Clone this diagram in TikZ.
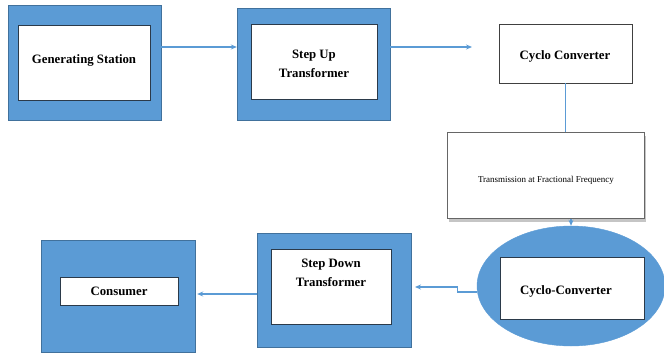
\documentclass[tikz,border=0pt]{standalone}
\usepackage{fontspec}
\setmainfont{Liberation Serif}
\usetikzlibrary{arrows.meta,shapes,shapes.geometric,shadows}
\definecolor{boxblue}{HTML}{5B9BD5}
\definecolor{rimblue}{HTML}{41719C}
\definecolor{inkline}{HTML}{2B3A4A}

\begin{document}
\begin{tikzpicture}[x=1pt,y=-1pt]
\useasboundingbox (0,0) rectangle (664,354);
\begin{scope}[every node/.style={rectangle,draw=rimblue,fill=boxblue,inner sep=0pt}]
    \node[minimum width=153,minimum height=115] (G) at (84.5,62.5) {};
    \node[minimum width=153,minimum height=112] (S) at (313.5,64) {};
    \node[minimum width=154,minimum height=114] (SD) at (334,290) {};
    \node[minimum width=154,minimum height=112] (Co) at (118,296) {};
\end{scope}
\node[ellipse,draw=boxblue,fill=boxblue,minimum width=188,minimum height=120,inner sep=0pt] (E) at (571,286) {};
\begin{scope}[every node/.style={rectangle,draw=inkline,fill=white,thick,inner sep=0pt}]
    \node[minimum width=132,minimum height=75] (Gi) at (84,62.5) {};
    \node[minimum width=126,minimum height=75] (Si) at (314,61.5) {};
    \node[minimum width=120,minimum height=75] (SDi) at (331,286.5) {};
    \node[minimum width=118,minimum height=28] (Coi) at (119,291) {};
    \node[minimum width=144,minimum height=62] (Ei) at (572,288) {};
    \node[draw=black!75,minimum width=133,minimum height=59] (C) at (565.5,53.5) {};
    \node[draw=black!60,minimum width=197,minimum height=86,
          drop shadow={shadow xshift=2pt,shadow yshift=-3pt,fill=black!45}] (T) at (545.5,175.5) {};
\end{scope}
\begin{scope}[every node/.style={font=\fontsize{12.8}{19}\selectfont\bfseries,align=center}]
    \node (tG) at (84,60) {Generating Station};
    \node (tS) at (314,64) {Step Up\\Transformer};
    \node (tC) at (565,56) {Cyclo Converter};
    \node (tE) at (566,291) {Cyclo-Converter};
    \node (tSD) at (331,273) {Step Down\\Transformer};
    \node (tCo) at (119,291) {Consumer};
\end{scope}
\node[font=\fontsize{9}{11}\selectfont] (tT) at (546,180) {Transmission at Fractional Frequency};
\coordinate (cin) at (472,47);
\coordinate (sdin) at (415,287);
\begin{scope}[>={Stealth[length=6pt,width=5pt]},
              every edge/.style={draw=boxblue,line width=1.2pt}]
    \path [->] ([yshift=15.5pt]G.east) edge ([yshift=17pt]S.west);
    \path [->] ([yshift=17pt]S.east) edge (cin);
    \path [-] (C.south) edge (C.south|-T.north);
    \path [->] (E.north|-T.south) edge (E.north);
    \path [->] ([yshift=-4pt]SD.west) edge ([yshift=2pt,xshift=2pt]Co.east);
\end{scope}
\draw[boxblue,line width=1.2pt,-{Stealth[length=6pt,width=5pt]}] ([yshift=-6pt]E.west) -- ++(-19,0) |- (sdin);
\end{tikzpicture}
\end{document}
